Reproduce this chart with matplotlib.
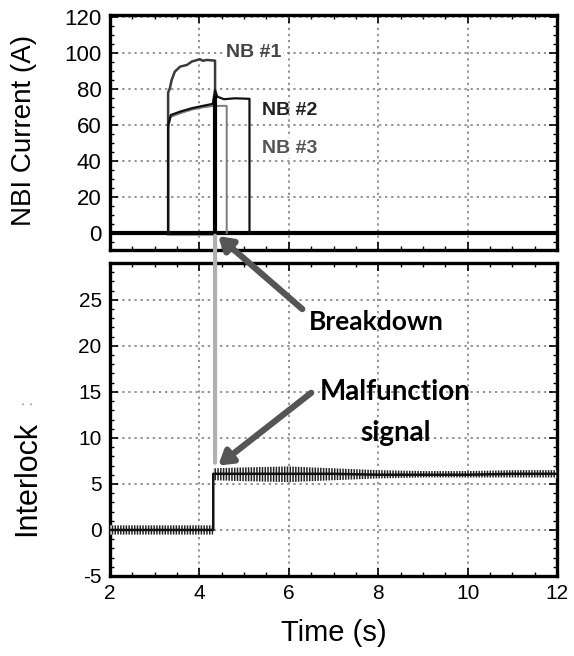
import matplotlib
matplotlib.use("Agg")
import matplotlib.pyplot as plt
from matplotlib.patches import ConnectionPatch
from matplotlib.ticker import AutoMinorLocator

# NBI currents (A)
nb1_t = [3.30, 3.30, 3.34, 3.38, 3.45, 3.57, 3.72, 3.83, 4.01, 4.08, 4.16, 4.35, 4.35]
nb1_i = [0, 78, 80.4, 85, 89.6, 92.4, 93.3, 95.2, 96.5, 95.6, 96.1, 95.7, 0]

nb2_t = [3.30, 3.30, 3.36, 3.57, 3.83, 4.08, 4.30, 4.35, 4.40, 4.55, 4.80, 5.12, 5.12]
nb2_i = [0, 60, 65.5, 67.4, 69.3, 70.6, 71.7, 79.4, 75.7, 74.3, 74.8, 74.5, 0]

nb3_t = [3.30, 3.30, 3.36, 3.57, 3.83, 4.08, 4.30, 4.45, 4.61, 4.61]
nb3_i = [0, 58, 64.5, 66.5, 68.5, 69.8, 70.5, 70.6, 70.6, 0]

breakdown_t = [4.35, 4.35]
breakdown_i = [0, 75]

# interlock signal: mean level and oscillation envelope
lock_t = [2.0, 4.31, 4.31, 5.0, 6.0, 7.0, 8.0, 9.0, 10.0, 11.0, 12.0]
lock_mid = [0.0, 0.0, 6.1, 6.1, 6.1, 6.1, 6.0, 6.0, 6.0, 6.1, 6.1]
lock_lo = [-0.5, -0.5, 5.4, 5.3, 5.2, 5.4, 5.6, 5.7, 5.7, 5.7, 5.7]
lock_hi = [0.5, 0.5, 6.7, 6.8, 6.9, 6.7, 6.5, 6.4, 6.4, 6.5, 6.5]

x_ticks = [2, 4, 6, 8, 10, 12]
top_yticks = [0, 20, 40, 60, 80, 100, 120]
bot_yticks = [-5, 0, 5, 10, 15, 20, 25]

plt.rcParams['font.family'] = ['Liberation Sans', 'DejaVu Sans']
plt.rcParams['axes.unicode_minus'] = False
plt.rcParams['hatch.linewidth'] = 1.1

fig = plt.figure(figsize=(5.74, 6.56), dpi=100)
ax1 = fig.add_axes([0.1916, 0.619, 0.779, 0.358])
ax2 = fig.add_axes([0.1916, 0.122, 0.779, 0.477])


def style(ax, yticks, minor_y):
    ax.set_xlim(2, 12)
    ax.set_xticks(x_ticks)
    ax.set_yticks(yticks)
    ax.xaxis.set_minor_locator(AutoMinorLocator(4))
    ax.yaxis.set_minor_locator(AutoMinorLocator(minor_y))
    ax.tick_params(which='both', direction='in', top=True, right=True)
    ax.tick_params(which='major', length=6, width=1.2, labelsize=15, pad=6)
    ax.tick_params(which='minor', length=3, width=1.0)
    for s in ax.spines.values():
        s.set_linewidth(2.4)
    ax.grid(True, which='major', linestyle=(0, (1.5, 2.5)), color='#777777', linewidth=1.1)


style(ax1, top_yticks, 4)
ax1.set_ylim(-9.4, 121)
ax1.tick_params(labelbottom=False, labelsize=16)

ax1.axhline(0, color='black', lw=3, zorder=3)
ax1.plot([3.3, 4.35], [-1.3, -1.3], color='#aaaaaa', lw=1.5, zorder=2)
ax1.plot(nb3_t, nb3_i, color='#7a7a7a', lw=1.4, zorder=3)
ax1.plot(nb1_t, nb1_i, color='#3a3a3a', lw=1.8, zorder=4)
ax1.plot(nb2_t, nb2_i, color='#111111', lw=1.6, zorder=4)
ax1.plot(breakdown_t, breakdown_i, color='black', lw=3, zorder=5)

ax1.text(4.6, 100, 'NB #1', fontsize=14, fontweight='bold', color='#444444',
         va='center', ha='left', zorder=6,
         bbox=dict(facecolor='white', edgecolor='none', pad=1))
ax1.text(5.4, 68, 'NB #2', fontsize=14, fontweight='bold', color='#222222',
         va='center', ha='left')
ax1.text(5.4, 47, 'NB #3', fontsize=14, fontweight='bold', color='#555555',
         va='center', ha='left', zorder=6,
         bbox=dict(facecolor='white', edgecolor='none', pad=1))

style(ax2, bot_yticks, 5)
ax2.set_ylim(-5, 29)

ax2.fill_between(lock_t, lock_lo, lock_hi, facecolor='white', edgecolor='#222222',
                 hatch='||||||', linewidth=0, zorder=3)
ax2.plot(lock_t, lock_mid, color='#111111', lw=1.8, zorder=4)

# gray marker line linking breakdown to the interlock step
con = ConnectionPatch(xyA=(4.35, -1.5), coordsA=ax1.transData,
                      xyB=(4.35, 7.3), coordsB=ax2.transData,
                      color='#b0b0b0', lw=3, zorder=6)
fig.add_artist(con)

arrow = dict(arrowstyle='-|>,head_length=0.8,head_width=0.5', color='#555555', lw=4.5,
             shrinkA=0, shrinkB=0)
ax2.annotate('', xy=(4.42, -1.7), xycoords=ax1.transData,
             xytext=(6.3, 24.0), textcoords=ax2.transData,
             arrowprops=arrow, annotation_clip=False)
ax2.text(6.45, 22.6, 'Breakdown', fontsize=19, fontweight='bold', family='Lato',
         va='center', ha='left', color='black')

ax2.annotate('', xy=(4.42, 7.0), xytext=(6.5, 14.9),
             arrowprops=arrow, annotation_clip=False)
ax2.text(8.38, 15.0, 'Malfunction', fontsize=20, fontweight='bold', family='Lato',
         va='center', ha='center', color='black')
ax2.text(8.38, 10.5, 'signal', fontsize=20, fontweight='bold', family='Lato',
         va='center', ha='center', color='black')

ax2.set_xlabel('Time (s)', fontsize=21, labelpad=11)

fig.text(24 / 574, 1 - 130 / 656, 'NBI Current (A)', rotation=90, fontsize=20,
         ha='center', va='center')
fig.text(27 / 574, 1 - 478 / 656, 'Interlock', rotation=90, fontsize=22,
         ha='center', va='center')
fig.text(27 / 574, 1 - 402 / 656, ':', rotation=90, fontsize=14,
         ha='center', va='center', color='#aaaaaa')

fig.savefig('out.png', dpi=100)
